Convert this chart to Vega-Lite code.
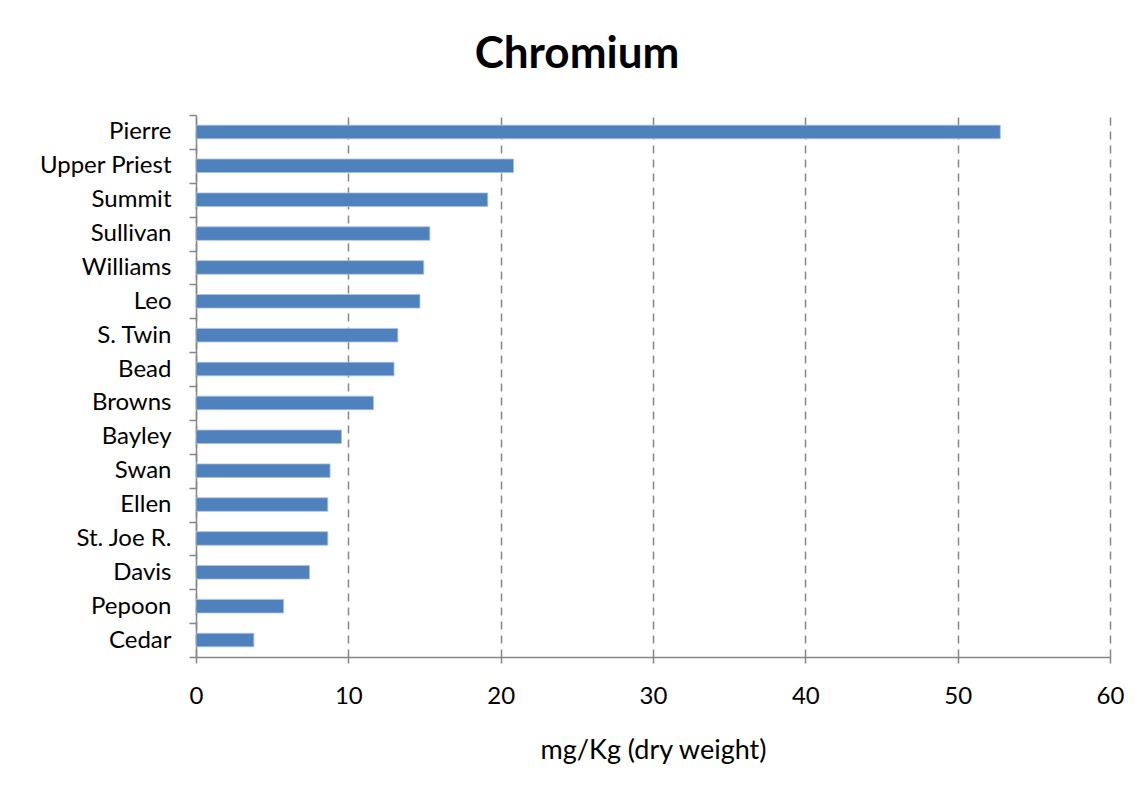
{
  "$schema": "https://vega.github.io/schema/vega-lite/v6.json",
  "autosize": "none",
  "width": 914,
  "height": 542,
  "padding": {"left": 196, "top": 115, "right": 31, "bottom": 145},
  "background": "white",
  "title": {
    "text": "Chromium",
    "font": "Lato",
    "fontSize": 44,
    "fontWeight": "bold",
    "color": "black",
    "anchor": "middle",
    "dx": -76,
    "dy": 54,
    "baseline": "alphabetic",
    "offset": 45
  },
  "data": {
    "values": [
      {"lake": "Pierre", "cr": 52.8},
      {"lake": "Upper Priest", "cr": 20.85},
      {"lake": "Summit", "cr": 19.15},
      {"lake": "Sullivan", "cr": 15.35},
      {"lake": "Williams", "cr": 14.95},
      {"lake": "Leo", "cr": 14.7},
      {"lake": "S. Twin", "cr": 13.25},
      {"lake": "Bead", "cr": 13.0},
      {"lake": "Browns", "cr": 11.65},
      {"lake": "Bayley", "cr": 9.55},
      {"lake": "Swan", "cr": 8.8},
      {"lake": "Ellen", "cr": 8.65},
      {"lake": "St. Joe R.", "cr": 8.65},
      {"lake": "Davis", "cr": 7.45},
      {"lake": "Pepoon", "cr": 5.75},
      {"lake": "Cedar", "cr": 3.8}
    ]
  },
  "mark": {"type": "bar", "height": {"band": 0.4}, "color": "#4f81bd", "stroke": "#a9c1e1", "strokeWidth": 0.8},
  "encoding": {
    "y": {
      "field": "lake",
      "type": "nominal",
      "sort": null,
      "scale": {"paddingInner": 0, "paddingOuter": 0},
      "axis": {
        "title": null,
        "tickBand": "extent",
        "tickSize": 7,
        "tickColor": "#868686",
        "tickWidth": 1.5,
        "domainColor": "#868686",
        "domainWidth": 1.5,
        "labelFont": "Lato",
        "labelFontSize": 24,
        "labelColor": "black",
        "labelPadding": 18,
        "grid": false
      }
    },
    "x": {
      "field": "cr",
      "type": "quantitative",
      "scale": {"domain": [0, 60], "nice": false},
      "axis": {
        "title": "mg/Kg (dry weight)",
        "titleFont": "Lato",
        "titleFontSize": 27,
        "titleFontWeight": "normal",
        "titleColor": "black",
        "titlePadding": 29,
        "values": [0, 10, 20, 30, 40, 50, 60],
        "tickSize": 6,
        "tickColor": "#868686",
        "tickWidth": 1.5,
        "domainColor": "#868686",
        "domainWidth": 1.5,
        "labelFont": "Lato",
        "labelFontSize": 24,
        "labelColor": "black",
        "labelPadding": 21,
        "labelFlush": false,
        "grid": true,
        "gridColor": "#868686",
        "gridWidth": 1.5,
        "gridDash": [8, 6]
      }
    }
  },
  "config": {"view": {"stroke": null}}
}
